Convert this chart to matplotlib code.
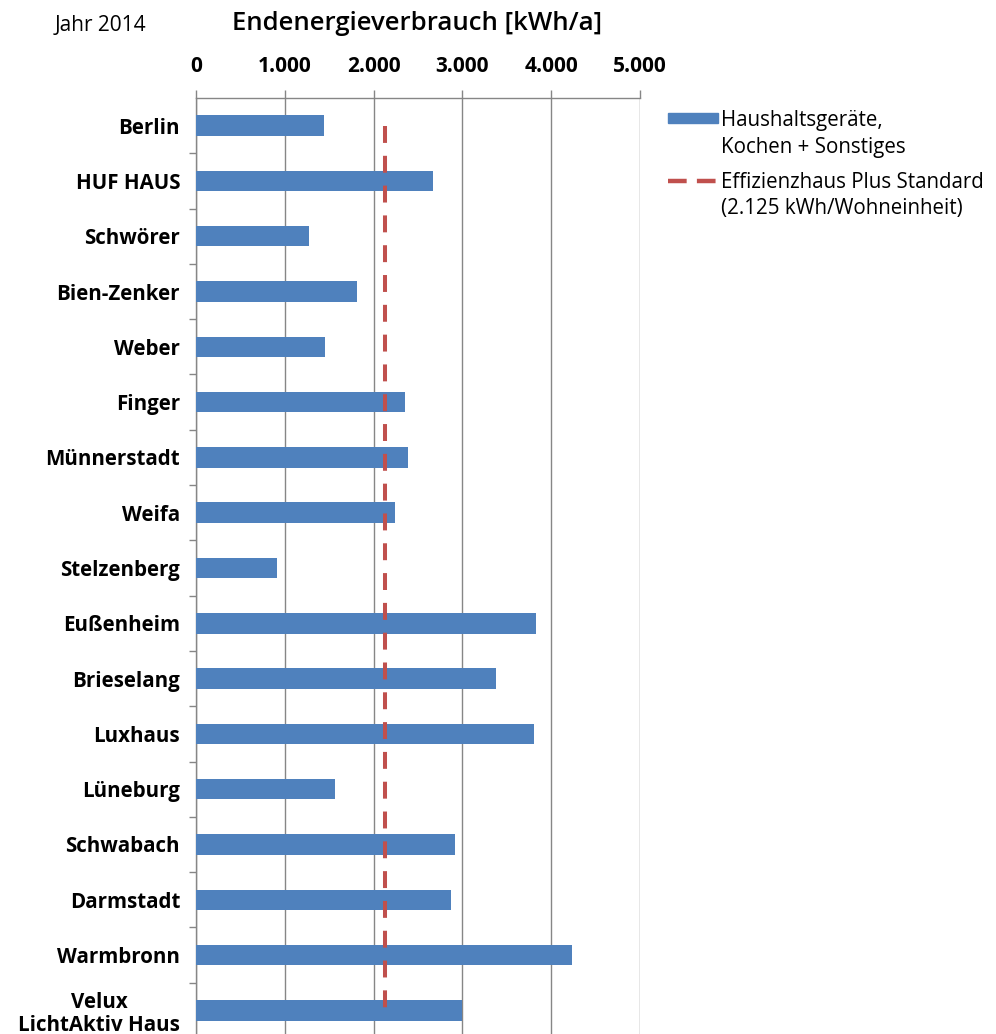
import matplotlib
matplotlib.use("Agg")
import matplotlib.pyplot as plt
from matplotlib.patches import Rectangle
from matplotlib.lines import Line2D
from matplotlib.ticker import FixedLocator, FuncFormatter

plt.rcParams['font.family'] = ['Open Sans', 'DejaVu Sans']

# data
houses = ["Berlin", "HUF HAUS", "Schwörer", "Bien-Zenker", "Weber", "Finger",
          "Münnerstadt", "Weifa", "Stelzenberg", "Eußenheim", "Brieselang",
          "Luxhaus", "Lüneburg", "Schwabach", "Darmstadt", "Warmbronn",
          "Velux\nLichtAktiv Haus"]
consumption = [1437, 2665, 1276, 1809, 1456, 2357, 2387, 2245, 908, 3832,
               3382, 3802, 1569, 2920, 2868, 4238, 2999]
standard = 2125
x_ticks = [0, 1000, 2000, 3000, 4000, 5000]

blue = "#4F81BD"
red = "#C0504D"
grid_gray = "#868686"

W, H = 996, 1034
fig = plt.figure(figsize=(W / 100, H / 100), dpi=100)
# axes placed in pixel terms: left 196, right 640, top 98, bottom 1038
ax = fig.add_axes([196 / W, (H - 1038) / H, (640 - 196) / W, (1038 - 98) / H])

pos = list(range(len(houses)))
ax.barh(pos, consumption, height=0.37, color=blue, zorder=3)
ax.plot([standard] * 2, [pos[0], pos[-1]], color=red, lw=2.9,
        dashes=(4.2, 3.2), zorder=4)

ax.set_xlim(0, 5000)
ax.set_ylim(len(houses) - 0.5, -0.5)

ax.xaxis.tick_top()
ax.xaxis.set_major_locator(FixedLocator(x_ticks))
ax.xaxis.set_major_formatter(FuncFormatter(lambda v, p: f"{int(v):,}".replace(",", ".")))
ax.tick_params(axis='x', direction='out', length=6, width=1, color=grid_gray,
               pad=9, labelsize=15)
for lbl in ax.get_xticklabels():
    lbl.set_fontweight('bold')
ax.grid(axis='x', color=grid_gray, lw=1, zorder=0)

ax.set_yticks(pos)
ax.set_yticklabels(houses, fontsize=14.8, fontweight='bold',
                   multialignment='center', linespacing=1.15)
ax.set_yticks([p + 0.5 for p in pos[:-1]], minor=True)
ax.tick_params(axis='y', which='major', length=0, pad=11.5)
ax.tick_params(axis='y', which='minor', length=5, width=1, color=grid_gray)

for s in ['right', 'bottom']:
    ax.spines[s].set_visible(False)
for s in ['top', 'left']:
    ax.spines[s].set_color(grid_gray)
    ax.spines[s].set_linewidth(1)

# headings
fig.text(55 / W, 1 - 31 / H, "Jahr 2014", fontsize=15, va='baseline', ha='left')
fig.text(232 / W, 1 - 30 / H, "Endenergieverbrauch [kWh/a]", fontsize=18.5,
         fontweight='semibold', va='baseline', ha='left')

# legend drawn by hand
fig.patches.append(Rectangle((668 / W, 1 - 123 / H), 50 / W, 10 / H,
                             transform=fig.transFigure, color=blue))
fig.lines.append(Line2D([668 / W, 716 / W], [1 - 181 / H, 1 - 181 / H],
                        transform=fig.transFigure, color=red, lw=3.2,
                        dashes=(4.2, 2.3)))
legend_lines = [("Haushaltsgeräte,", 126), ("Kochen + Sonstiges", 153),
                ("Effizienzhaus Plus Standard", 188), ("(2.125 kWh/Wohneinheit)", 214)]
for txt, base in legend_lines:
    fig.text(721 / W, 1 - base / H, txt, fontsize=14.8, va='baseline', ha='left')

fig.savefig("out.png", dpi=100)
